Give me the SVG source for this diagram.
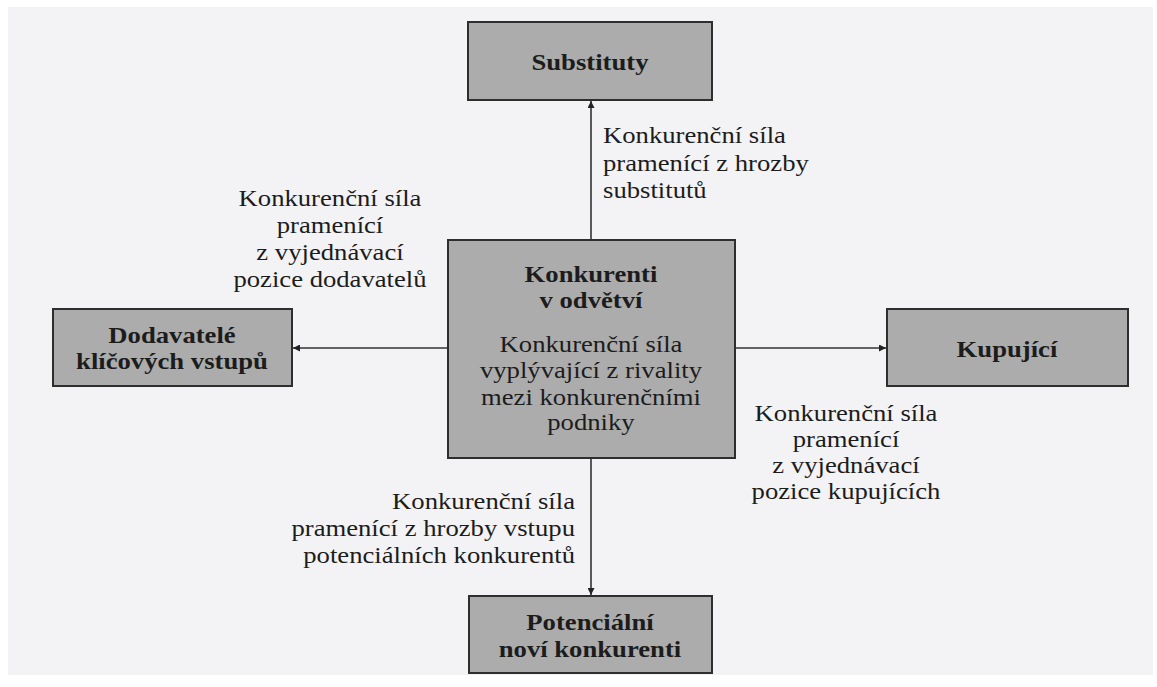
<svg xmlns="http://www.w3.org/2000/svg" width="1157" height="687" viewBox="0 0 1157 687">
<style>
.box{fill:#acacac;stroke:#2e2e2e;stroke-width:2}
.t{font-family:"Liberation Serif","Times New Roman",serif;font-size:23px;fill:#1c1c1c}
.b{font-weight:bold}
.c{text-anchor:middle}
.r{text-anchor:end}
.ln{stroke:#333;stroke-width:1.6;fill:none}
</style>
<defs>
<marker id="ah" viewBox="0 0 10 10" refX="10" refY="5" markerWidth="7" markerHeight="7" markerUnits="userSpaceOnUse" orient="auto">
<path d="M0,0 L10,5 L0,10 z" fill="#222"/>
</marker>
</defs>
<rect x="0" y="0" width="1157" height="687" fill="#ffffff"/>
<rect x="8" y="7" width="1145" height="668" fill="#f3f3f5"/>
<g id="connectors">
<line class="ln" x1="591" y1="240" x2="591" y2="101" marker-end="url(#ah)"/>
<line class="ln" x1="448" y1="348" x2="293" y2="348" marker-end="url(#ah)"/>
<line class="ln" x1="735" y1="348" x2="886" y2="348" marker-end="url(#ah)"/>
<line class="ln" x1="591" y1="458" x2="591" y2="595" marker-end="url(#ah)"/>
</g>
<g id="substituty">
<rect class="box" x="468" y="22" width="244" height="78"/>
<text class="t b c" transform="scale(1.16,1)" x="508.62" y="70">Substituty</text>
</g>
<g id="konkurenti">
<rect class="box" x="448" y="240" width="287" height="218"/>
<text class="t b c" transform="scale(1.16,1)" x="509.48" y="282">Konkurenti</text>
<text class="t b c" transform="scale(1.16,1)" x="509.48" y="308">v odvětví</text>
<text class="t c" transform="scale(1.16,1)" x="509.48" y="352">Konkurenční síla</text>
<text class="t c" transform="scale(1.16,1)" x="509.48" y="378">vyplývající z rivality</text>
<text class="t c" transform="scale(1.16,1)" x="509.48" y="405">mezi konkurenčními</text>
<text class="t c" transform="scale(1.16,1)" x="509.48" y="430">podniky</text>
</g>
<g id="dodavatele">
<rect class="box" x="53" y="309" width="239" height="77"/>
<text class="t b c" transform="scale(1.16,1)" x="148.28" y="343">Dodavatelé</text>
<text class="t b c" transform="scale(1.16,1)" x="148.28" y="369">klíčových vstupů</text>
</g>
<g id="kupujici">
<rect class="box" x="887" y="309" width="241" height="77"/>
<text class="t b c" transform="scale(1.16,1)" x="868.10" y="357">Kupující</text>
</g>
<g id="potencialni">
<rect class="box" x="469" y="596" width="243" height="77"/>
<text class="t b c" transform="scale(1.16,1)" x="508.62" y="630">Potenciální</text>
<text class="t b c" transform="scale(1.16,1)" x="508.62" y="657">noví konkurenti</text>
</g>
<g id="labels">
<text class="t" transform="scale(1.16,1)" x="519.83" y="143">Konkurenční síla</text>
<text class="t" transform="scale(1.16,1)" x="519.83" y="171">pramenící z hrozby</text>
<text class="t" transform="scale(1.16,1)" x="519.83" y="198">substitutů</text>
<text class="t c" transform="scale(1.16,1)" x="284.48" y="206">Konkurenční síla</text>
<text class="t c" transform="scale(1.16,1)" x="284.48" y="233">pramenící</text>
<text class="t c" transform="scale(1.16,1)" x="284.48" y="260">z vyjednávací</text>
<text class="t c" transform="scale(1.16,1)" x="284.48" y="287">pozice dodavatelů</text>
<text class="t c" transform="scale(1.16,1)" x="729.31" y="421">Konkurenční síla</text>
<text class="t c" transform="scale(1.16,1)" x="729.31" y="447">pramenící</text>
<text class="t c" transform="scale(1.16,1)" x="729.31" y="473">z vyjednávací</text>
<text class="t c" transform="scale(1.16,1)" x="729.31" y="499">pozice kupujících</text>
<text class="t r" transform="scale(1.16,1)" x="495.69" y="509">Konkurenční síla</text>
<text class="t r" transform="scale(1.16,1)" x="495.69" y="536">pramenící z hrozby vstupu</text>
<text class="t r" transform="scale(1.16,1)" x="495.69" y="563">potenciálních konkurentů</text>
</g>
</svg>
